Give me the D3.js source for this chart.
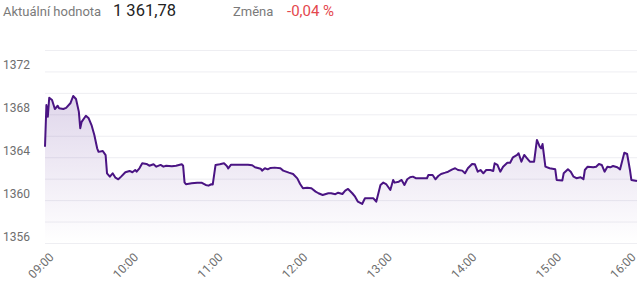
<!DOCTYPE html>
<html>
<head>
<meta charset="utf-8">
<script src="https://cdn.jsdelivr.net/npm/d3@7"></script>
<style>
  body { margin: 0; background: #fff; font-family: Roboto, "Noto Sans", sans-serif; }
</style>
</head>
<body>
<svg id="chart" width="640" height="281"></svg>
<script>
// intraday index values
const times = ["09:00","09:01","09:02","09:03","09:05","09:07","09:09","09:10","09:13","09:15",
  "09:18","09:20","09:22","09:24","09:25","09:26","09:29","09:31","09:33","09:35",
  "09:37","09:38","09:41","09:43","09:44","09:46","09:48","09:50","09:52","09:54",
  "09:57","10:00","10:02","10:04","10:05","10:07","10:09","10:12","10:14","10:17",
  "10:19","10:22","10:24","10:26","10:30","10:33","10:37","10:38","10:39","10:40",
  "10:44","10:48","10:51","10:54","10:56","10:58","10:59","11:01","11:04","11:07",
  "11:09","11:10","11:12","11:17","11:24","11:27","11:29","11:33","11:34","11:36",
  "11:38","11:40","11:43","11:47","11:49","11:53","11:56","11:59","12:01","12:03",
  "12:06","12:09","12:12","12:14","12:17","12:21","12:23","12:26","12:28","12:31",
  "12:33","12:35","12:38","12:40","12:42","12:45","12:47","12:49","12:53","12:55",
  "12:58","13:00","13:02","13:05","13:07","13:08","13:11","13:13","13:15","13:17",
  "13:19","13:21","13:23","13:28","13:31","13:32","13:35","13:37","13:39","13:41",
  "13:44","13:46","13:49","13:51","13:53","13:56","13:58","14:00","14:03","14:05",
  "14:07","14:09","14:11","14:13","14:16","14:18","14:19","14:21","14:23","14:25",
  "14:28","14:30","14:32","14:35","14:36","14:38","14:40","14:42","14:44","14:47",
  "14:49","14:51","14:52","14:53","14:55","14:58","15:02","15:03","15:07","15:08",
  "15:11","15:13","15:15","15:17","15:20","15:22","15:23","15:25","15:29","15:31",
  "15:33","15:35","15:37","15:39","15:41","15:43","15:46","15:48","15:51","15:53",
  "15:55","15:56","16:00"];

const values = [1364.98,1368.87,1367.78,1369.55,1369.34,1368.50,1368.80,1368.57,1368.50,1368.60,
  1369.03,1369.71,1369.43,1368.25,1366.70,1367.30,1367.87,1367.63,1367.00,1366.07,
  1364.83,1364.50,1364.58,1364.20,1362.50,1362.19,1362.50,1362.09,1361.94,1362.19,
  1362.60,1362.72,1362.60,1362.81,1362.65,1362.97,1363.43,1363.37,1363.21,1363.34,
  1363.12,1363.28,1363.12,1363.21,1363.15,1363.21,1363.34,1363.20,1361.66,1361.48,
  1361.57,1361.63,1361.63,1361.41,1361.35,1361.48,1361.45,1363.28,1363.34,1363.43,
  1363.18,1362.96,1363.30,1363.30,1363.30,1363.25,1363.06,1362.93,1362.75,1362.97,
  1362.87,1363.00,1363.03,1362.97,1362.75,1362.56,1362.44,1362.03,1361.50,1361.10,
  1361.16,1361.10,1360.79,1360.64,1360.48,1360.64,1360.64,1360.55,1360.69,1360.57,
  1360.88,1361.04,1360.64,1360.32,1359.85,1359.64,1360.17,1360.17,1360.17,1359.85,
  1361.41,1361.63,1361.50,1360.94,1361.88,1361.63,1361.72,1361.88,1361.41,1361.94,
  1362.13,1362.19,1362.04,1362.04,1362.04,1362.34,1362.34,1361.94,1362.25,1362.44,
  1362.56,1362.65,1362.87,1362.97,1362.81,1362.75,1362.50,1362.97,1363.37,1363.34,
  1362.65,1362.81,1362.50,1362.81,1362.81,1362.72,1363.43,1363.28,1362.65,1363.12,
  1363.49,1363.49,1363.99,1364.21,1364.37,1363.58,1364.21,1363.90,1363.58,1363.58,
  1365.61,1364.98,1364.83,1365.23,1363.12,1362.97,1362.87,1361.88,1361.82,1362.50,
  1362.87,1362.65,1362.19,1362.04,1362.13,1361.94,1362.81,1363.12,1363.06,1363.12,
  1363.37,1363.28,1362.65,1363.12,1363.06,1363.18,1363.06,1362.87,1364.42,1364.30,
  1362.81,1361.88,1361.78];

const hourTicks = ["09:00","10:00","11:00","12:00","13:00","14:00","15:00","16:00"];
const yLabels = [1356, 1360, 1364, 1368, 1372];
const yGrid = [1356, 1358, 1360, 1362, 1364, 1366, 1368, 1370, 1372, 1374];

const currentLabel = "Aktuální hodnota",
      currentValue = "1 361,78",
      changeLabel = "Změna",
      changeValue = "-0,04 %";

const parse = d3.timeParse("%H:%M");
const data = times.map((t, i) => ({ t: parse(t), v: values[i] }));

const svg = d3.select("#chart");

let plotLeft = 45, plotRight = 637, plotTop = 50, plotBottom = 243;

let x = d3.scaleTime()
    .domain([parse(hourTicks[0]), parse(hourTicks[hourTicks.length - 1])])
    .range([plotLeft, plotRight]);

let y = d3.scaleLinear()
    .domain([1356, 1374])
    .range([plotBottom, plotTop]);

// header
let head = svg.append("g").style("font-family", "Roboto, sans-serif");
head.append("text").attr("x", 3).attr("y", 16).attr("font-size", 13).attr("fill", "#7a7a7a").text(currentLabel);
head.append("text").attr("x", 113).attr("y", 16).attr("font-size", 16.5).attr("fill", "#222").text(currentValue);
head.append("text").attr("x", 233).attr("y", 16).attr("font-size", 13).attr("fill", "#7a7a7a").text(changeLabel);
head.append("text").attr("x", 287).attr("y", 16).attr("font-size", 15).attr("fill", "#e4474d").text(changeValue);

// gridlines
svg.append("g")
    .attr("transform", `translate(${plotLeft},0)`)
    .call(d3.axisLeft(y).tickValues(yGrid).tickSize(-(plotRight - plotLeft)).tickFormat(""))
    .call(g => g.select(".domain").remove())
    .call(g => g.selectAll(".tick line").attr("stroke", "#eeeef2"));

// y labels sit just above their gridline
svg.append("g")
    .selectAll("text")
    .data(yLabels)
    .join("text")
    .attr("x", 3)
    .attr("y", d => y(d) - 2)
    .attr("font-size", 12)
    .attr("font-family", "Roboto, sans-serif")
    .attr("fill", "#6e6e6e")
    .text(d => d);

// area gradient
let grad = svg.append("defs").append("linearGradient")
    .attr("id", "fill")
    .attr("gradientUnits", "userSpaceOnUse")
    .attr("x1", 0).attr("x2", 0)
    .attr("y1", plotTop + 40).attr("y2", plotBottom);
grad.append("stop").attr("offset", 0).attr("stop-color", "#5a2a96").attr("stop-opacity", 0.2);
grad.append("stop").attr("offset", 1).attr("stop-color", "#5a2a96").attr("stop-opacity", 0);

let area = d3.area()
    .x(d => x(d.t))
    .y0(plotBottom)
    .y1(d => y(d.v));

let line = d3.line()
    .x(d => x(d.t))
    .y(d => y(d.v));

svg.append("path")
    .datum(data)
    .attr("fill", "url(#fill)")
    .attr("d", area);

svg.append("path")
    .datum(data)
    .attr("fill", "none")
    .attr("stroke", "#4a1483")
    .attr("stroke-width", 2)
    .attr("stroke-linejoin", "round")
    .attr("d", line);

// x axis, rotated labels; the last one is pushed back inside the frame
svg.append("g")
    .attr("transform", `translate(0,${plotBottom})`)
    .call(d3.axisBottom(x).tickValues(hourTicks.map(parse)).tickFormat(d3.timeFormat("%H:%M")).tickSize(0))
    .call(g => g.select(".domain").remove())
    .call(g => g.selectAll("text")
        .attr("x", 0).attr("y", 0).attr("dy", 0)
        .attr("text-anchor", "end")
        .attr("transform", d => `translate(${Math.min(x(d) + 9, 636) - x(d)},15) rotate(-45)`)
        .attr("font-size", 12)
        .attr("font-family", "Roboto, sans-serif")
        .attr("fill", "#6e6e6e"));
</script>
</body>
</html>
